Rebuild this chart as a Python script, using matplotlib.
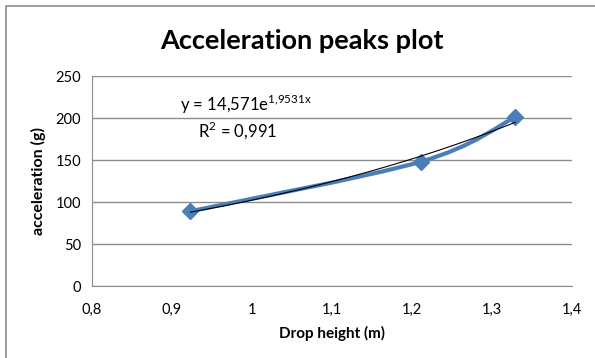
import numpy as np
import matplotlib.pyplot as plt
from matplotlib.path import Path
from matplotlib.patches import PathPatch, Rectangle

# Data
drop_height = [0.923, 1.211, 1.329]
accel_peak = [89, 148, 201]

x_ticks = [0.8, 0.9, 1.0, 1.1, 1.2, 1.3, 1.4]
x_ticklabels = ["0,8", "0,9", "1", "1,1", "1,2", "1,3", "1,4"]
y_ticks = [0, 50, 100, 150, 200, 250]

blue = "#4a7ebb"
plt.rcParams['font.family'] = ['Lato', 'DejaVu Sans']

fig = plt.figure(figsize=(5.95, 3.58), dpi=100)
fig.patches.append(Rectangle((6 / 595, -0.1), 1.2, 1 - 6 / 358 + 0.1, transform=fig.transFigure,
                             fill=False, edgecolor="#8c8c8c", linewidth=1.2))
ax = fig.add_axes([92 / 595, 1 - 286 / 358, 480 / 595, 210 / 358])

# smoothed series line (Catmull-Rom -> bezier, like Excel "smoothed line")
pts = np.column_stack([drop_height, accel_peak])
verts = [pts[0]]
codes = [Path.MOVETO]
ext = np.vstack([pts[0], pts, pts[-1]])
for i in range(len(pts) - 1):
    p0, p1, p2, p3 = ext[i], ext[i + 1], ext[i + 2], ext[i + 3]
    c1 = p1 + (p2 - p0) / 6
    c2 = p2 - (p3 - p1) / 6
    verts += [c1, c2, p2]
    codes += [Path.CURVE4] * 3
ax.add_patch(PathPatch(Path(verts, codes), facecolor="none", edgecolor=blue, linewidth=3, zorder=3))
ax.plot(drop_height, accel_peak, linestyle="none", marker="D", markersize=8.5, color=blue, zorder=4)

# exponential trendline
b, ln_a = np.polyfit(drop_height, np.log(accel_peak), 1)
xt = np.linspace(drop_height[0], drop_height[-1], 50)
ax.plot(xt, np.exp(ln_a) * np.exp(b * xt), color="black", linewidth=0.8, zorder=5)

ax.text(0.91, 216, "y = 14,571e$^{\\mathregular{1{,}9531x}}$", fontsize=12, ha="left", va="center")
ax.text(0.9325, 186, "R$^{\\mathregular{2}}$ = 0,991", fontsize=12, ha="left", va="center")

ax.set_xlim(0.8, 1.4)
ax.set_ylim(0, 250)
ax.set_xticks(x_ticks)
ax.set_xticklabels(x_ticklabels)
ax.set_yticks(y_ticks)
ax.tick_params(length=0, labelsize=10.5, pad=8)
ax.tick_params(axis="x", pad=12)
ax.grid(axis="y", color="#8c8c8c", linewidth=1)
ax.set_axisbelow(True)
for s in ["top", "right"]:
    ax.spines[s].set_visible(False)
ax.spines["left"].set_color("#8c8c8c")
ax.spines["bottom"].set_color("#8c8c8c")

ax.set_xlabel("Drop height (m)", fontsize=11, fontweight="bold", labelpad=7)
ax.set_ylabel("acceleration (g)", fontsize=11.5, fontweight="bold", labelpad=7)
fig.text(302 / 595, 1 - 41 / 358, "Acceleration peaks plot", fontsize=19.5, fontweight="bold",
         ha="center", va="center")

fig.savefig("out.png", dpi=100)
